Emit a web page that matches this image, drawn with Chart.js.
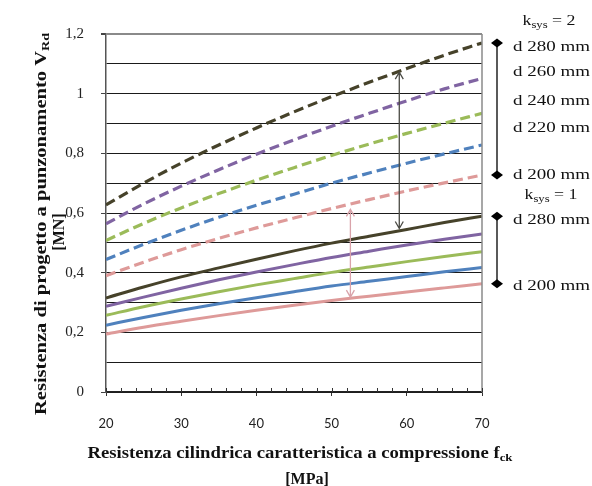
<!DOCTYPE html>
<html>
<head>
<meta charset="utf-8">
<script src="https://cdn.jsdelivr.net/npm/chart.js@4.4.1/dist/chart.umd.min.js"></script>
<style>
  html, body { margin: 0; padding: 0; background: #fff; }
  #c { display: block; }
</style>
</head>
<body>
<canvas id="c" width="592" height="486"></canvas>
<script>
// Characteristic cylinder strength f_ck [MPa]
const fck = [20, 25, 30, 35, 40, 45, 50, 55, 60, 65, 70];

// Punching shear resistance V_Rd [MN], k_sys = 1 (solid lines)
const k1d280 = [0.315, 0.352, 0.386, 0.416, 0.445, 0.473, 0.499, 0.522, 0.545, 0.568, 0.589];
const k1d260 = [0.287, 0.318, 0.348, 0.376, 0.402, 0.427, 0.451, 0.472, 0.493, 0.512, 0.530];
const k1d240 = [0.257, 0.286, 0.312, 0.336, 0.359, 0.380, 0.401, 0.419, 0.437, 0.454, 0.470];
const k1d220 = [0.224, 0.250, 0.274, 0.296, 0.316, 0.336, 0.355, 0.371, 0.387, 0.403, 0.417];
const k1d200 = [0.194, 0.217, 0.237, 0.256, 0.274, 0.291, 0.307, 0.321, 0.335, 0.349, 0.363];

// Punching shear resistance V_Rd [MN], k_sys = 2 (dashed lines)
const k2d280 = [0.627, 0.700, 0.767, 0.828, 0.885, 0.939, 0.990, 1.038, 1.084, 1.129, 1.170];
const k2d260 = [0.564, 0.630, 0.690, 0.745, 0.797, 0.845, 0.891, 0.934, 0.976, 1.016, 1.051];
const k2d240 = [0.508, 0.565, 0.617, 0.665, 0.710, 0.752, 0.793, 0.831, 0.867, 0.901, 0.934];
const k2d220 = [0.444, 0.495, 0.542, 0.586, 0.626, 0.663, 0.700, 0.734, 0.767, 0.798, 0.828];
const k2d200 = [0.390, 0.435, 0.477, 0.515, 0.550, 0.583, 0.615, 0.645, 0.674, 0.701, 0.727];

const diameters = ['d 280 mm', 'd 260 mm', 'd 240 mm', 'd 220 mm', 'd 200 mm'];
const seriesColors = ['#46422a', '#8064A2', '#9BBB59', '#4F81BD', '#DE9A99'];

// Double arrows between k_sys = 1 and k_sys = 2 curves
const arrowFck  = [59, 52.5];
const arrowLow  = [0.548, 0.318];
const arrowHigh = [1.072, 0.612];
const arrowColors = ['#4a4a44', '#d9a3aa'];

// Axis tick labels
const xLabelEvery = 10;
const yLabelEvery = 0.2;

const k1 = [k1d280, k1d260, k1d240, k1d220, k1d200];
const k2 = [k2d280, k2d260, k2d240, k2d220, k2d200];
const toPts = arr => arr.map((v, i) => ({ x: fck[i], y: v }));

const datasets = [];
k2.forEach((arr, i) => datasets.push({
  label: diameters[i] + ' (k_sys = 2)', data: toPts(arr),
  borderColor: seriesColors[i], borderWidth: 3.2, borderDash: [10, 5],
  pointRadius: 0, fill: false, cubicInterpolationMode: 'monotone'
}));
k1.forEach((arr, i) => datasets.push({
  label: diameters[i] + ' (k_sys = 1)', data: toPts(arr),
  borderColor: seriesColors[i], borderWidth: 3,
  pointRadius: 0, fill: false, cubicInterpolationMode: 'monotone'
}));

// Draw a run of text pieces (normal / subscript), optionally stretched to a width
function drawRich(ctx, parts, x, y, width, align) {
  let natural = 0;
  parts.forEach(p => { ctx.font = p.font; p.w = ctx.measureText(p.text).width; natural += p.w; });
  const sx = width ? width / natural : 1;
  const total = natural * sx;
  const start = align === 'center' ? x - total / 2 : align === 'right' ? x - total : x;
  ctx.save();
  ctx.translate(start, y);
  ctx.scale(sx, 1);
  ctx.textAlign = 'left';
  ctx.textBaseline = 'alphabetic';
  let cx = 0;
  parts.forEach(p => { ctx.font = p.font; ctx.fillText(p.text, cx, p.dy || 0); cx += p.w; });
  ctx.restore();
}

function drawDoubleArrow(ctx, x, y1, y2, color) {
  const h = 7, w = 4;
  ctx.save();
  ctx.strokeStyle = color;
  ctx.lineWidth = 1.3;
  ctx.beginPath();
  ctx.moveTo(x, y1); ctx.lineTo(x, y2);
  ctx.moveTo(x - w, y2 + h); ctx.lineTo(x, y2); ctx.lineTo(x + w, y2 + h);
  ctx.moveTo(x - w, y1 - h); ctx.lineTo(x, y1); ctx.lineTo(x + w, y1 - h);
  ctx.stroke();
  ctx.restore();
}

function drawDiamond(ctx, x, y) {
  ctx.beginPath();
  ctx.moveTo(x, y - 4.5); ctx.lineTo(x + 6, y); ctx.lineTo(x, y + 4.5); ctx.lineTo(x - 6, y);
  ctx.closePath();
  ctx.fill();
}

const SERIF = '"Liberation Serif", "Times New Roman", serif';

const overlay = {
  id: 'overlay',
  afterDatasetsDraw(chart) {
    const { ctx, scales: { x, y } } = chart;
    arrowFck.forEach((f, i) => {
      drawDoubleArrow(ctx, x.getPixelForValue(f), y.getPixelForValue(arrowLow[i]),
        y.getPixelForValue(arrowHigh[i]), arrowColors[i]);
    });
  },
  afterDraw(chart) {
    const { ctx, chartArea: a, scales: { x, y } } = chart;
    ctx.save();

    // right frame line
    ctx.strokeStyle = '#8a8a8a';
    ctx.lineWidth = 1.5;
    ctx.beginPath();
    ctx.moveTo(a.right, a.top); ctx.lineTo(a.right, a.bottom);
    ctx.stroke();

    // minor ticks on the x axis, pointing into the plot
    ctx.strokeStyle = '#333';
    ctx.lineWidth = 1;
    ctx.beginPath();
    x.ticks.forEach(t => {
      const px = Math.round(x.getPixelForValue(t.value)) + 0.5;
      ctx.moveTo(px, a.bottom); ctx.lineTo(px, a.bottom - 4);
    });
    ctx.stroke();

    // range brackets on the right
    const bx = a.right + 15;
    ctx.fillStyle = '#000';
    ctx.strokeStyle = '#000';
    ctx.lineWidth = 1.3;
    [k2, k1].forEach(group => {
      const yTop = y.getPixelForValue(group[0][group[0].length - 1]);
      const yBot = y.getPixelForValue(group[4][group[4].length - 1]);
      ctx.beginPath(); ctx.moveTo(bx, yTop); ctx.lineTo(bx, yBot); ctx.stroke();
      drawDiamond(ctx, bx, yTop);
      drawDiamond(ctx, bx, yBot);
    });

    const lblFont = '14px ' + SERIF;
    const subFont = '10px ' + SERIF;
    ctx.fillStyle = '#111';
    // k_sys = 2 group
    drawRich(ctx, [{ text: 'k', font: lblFont }, { text: 'sys', font: subFont, dy: 3 }, { text: ' = 2', font: lblFont }], 549, 25, 53, 'center');
    const k2LabelY = [51, 76, 105, 132, 179];
    diameters.forEach((d, i) => drawRich(ctx, [{ text: d, font: lblFont }], 513, k2LabelY[i], 77, 'left'));
    // k_sys = 1 group
    drawRich(ctx, [{ text: 'k', font: lblFont }, { text: 'sys', font: subFont, dy: 3 }, { text: ' = 1', font: lblFont }], 551, 199, 53, 'center');
    drawRich(ctx, [{ text: diameters[0], font: lblFont }], 513, 224, 77, 'left');
    drawRich(ctx, [{ text: diameters[4], font: lblFont }], 513, 290, 77, 'left');

    // x axis title
    const tBold = 'bold 16px ' + SERIF;
    const tSub = 'bold 11px ' + SERIF;
    ctx.fillStyle = '#111';
    drawRich(ctx, [{ text: 'Resistenza cilindrica caratteristica a compressione f', font: tBold },
                   { text: 'ck', font: tSub, dy: 3 }], 300, 458, 425, 'center');
    drawRich(ctx, [{ text: '[MPa]', font: tBold }], 307, 484, 0, 'center');

    // y axis title (rotated)
    ctx.save();
    ctx.translate(46, 224);
    ctx.rotate(-Math.PI / 2);
    drawRich(ctx, [{ text: 'Resistenza di progetto a punzonamento V', font: tBold },
                   { text: 'Rd', font: tSub, dy: 3 }], 0, 0, 382, 'center');
    ctx.restore();
    ctx.save();
    ctx.translate(64, 232);
    ctx.rotate(-Math.PI / 2);
    drawRich(ctx, [{ text: '[MN]', font: tBold }], 0, 0, 0, 'center');
    ctx.restore();

    ctx.restore();
  }
};

const isMultiple = (v, step) => Math.abs(v / step - Math.round(v / step)) < 1e-6;

new Chart(document.getElementById('c'), {
  type: 'line',
  data: { datasets },
  plugins: [overlay],
  options: {
    responsive: false,
    animation: false,
    devicePixelRatio: 1,
    layout: { padding: { left: 0, right: 110, top: 34, bottom: 0 } },
    plugins: { legend: { display: false }, tooltip: { enabled: false } },
    scales: {
      x: {
        type: 'linear', min: 20, max: 70,
        afterFit: s => { s.height = 94; },
        ticks: {
          stepSize: 2, autoSkip: false, maxRotation: 0, padding: 20,
          color: '#222', font: { family: 'Lato', size: 13 },
          callback: v => isMultiple(v, xLabelEvery) ? String(v) : ''
        },
        grid: {
          drawOnChartArea: false, tickLength: 4,
          tickColor: c => (c.tick && isMultiple(c.tick.value, xLabelEvery)) ? '#333' : 'rgba(0,0,0,0)'
        },
        border: { color: '#222', width: 1.5 }
      },
      y: {
        min: 0, max: 1.2,
        afterFit: s => { s.width = 106; },
        ticks: {
          stepSize: 0.1, autoSkip: false, padding: 17,
          color: '#222', font: { family: 'Liberation Serif', size: 15 },
          callback: v => isMultiple(v, yLabelEvery) ? String(Math.round(v * 10) / 10).replace('.', ',') : ''
        },
        grid: {
          color: c => (c.tick && c.tick.value > 1.15) ? '#8a8a8a' : '#1a1a1a',
          lineWidth: c => (c.tick && c.tick.value > 1.15) ? 2 : 1,
          tickLength: 5,
          tickColor: c => (c.tick && isMultiple(c.tick.value, yLabelEvery)) ? '#444' : 'rgba(0,0,0,0)'
        },
        border: { color: '#555', width: 1.5 }
      }
    }
  }
});
</script>
</body>
</html>
